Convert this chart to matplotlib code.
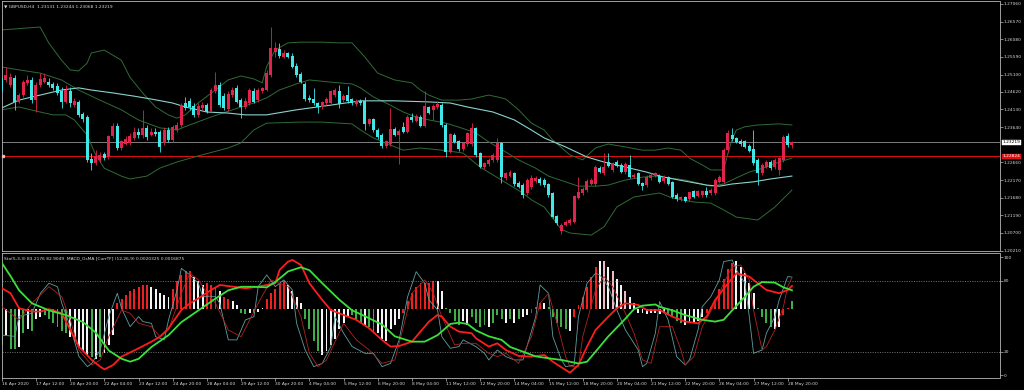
import matplotlib
matplotlib.use("Agg")
import matplotlib.pyplot as plt
import numpy as np

# ---------------- data ----------------
OPEN = [1.2497,1.2495,1.2481,1.2500,1.2435,1.2453,1.2486,1.2495,1.2439,1.2481,
        1.2490,1.2490,1.2483,1.2478,1.2463,1.2435,1.2465,1.2426,1.2432,1.2400,
        1.2393,1.2275,1.2265,1.2273,1.2289,1.2280,1.2338,1.2367,1.2305,1.2317,
        1.2319,1.2333,1.2351,1.2342,1.2361,1.2342,1.2351,1.2349,1.2319,1.2356,
        1.2328,1.2356,1.2370,1.2430,1.2435,1.2423,1.2398,1.2416,1.2426,1.2409,
        1.2463,1.2481,1.2449,1.2414,1.2453,1.2472,1.2439,1.2419,1.2430,1.2463,
        1.2439,1.2463,1.2467,1.2509,1.2574,1.2580,1.2560,1.2569,1.2562,1.2532,
        1.2512,1.2483,1.2444,1.2442,1.2430,1.2419,1.2430,1.2430,1.2453,1.2463,
        1.2439,1.2453,1.2442,1.2428,1.2437,1.2437,1.2373,1.2386,1.2356,1.2342,
        1.2312,1.2317,1.2358,1.2342,1.2363,1.2351,1.2393,1.2382,1.2393,1.2367,
        1.2419,1.2412,1.2419,1.2426,1.2370,1.2296,1.2342,1.2324,1.2303,1.2317,
        1.2317,1.2361,1.2291,1.2252,1.2261,1.2273,1.2273,1.2319,1.2222,1.2229,
        1.2236,1.2208,1.2203,1.2180,1.2197,1.2215,1.2219,1.2217,1.2206,1.2180,
        1.2117,1.2076,1.2092,1.2097,1.2101,1.2166,1.2180,1.2189,1.2206,1.2206,
        1.2250,1.2236,1.2268,1.2245,1.2268,1.2259,1.2238,1.2259,1.2226,1.2236,
        1.2208,1.2203,1.2222,1.2228,1.2228,1.2215,1.2225,1.2210,1.2175,1.2163,
        1.2169,1.2163,1.2185,1.2173,1.2175,1.2185,1.2180,1.2180,1.2212,1.2212,
        1.2300,1.2342,1.2333,1.2326,1.2324,1.2312,1.2302,1.2273,1.2236,1.2254,
        1.2268,1.2252,1.2245,1.2273,1.2339,1.23131]
HIGH = [1.2504,1.2532,1.2513,1.2509,1.2458,1.2495,1.2509,1.2504,1.2490,1.2513,
        1.2513,1.2500,1.2490,1.2486,1.2476,1.2481,1.2476,1.2444,1.2439,1.2407,
        1.2398,1.2291,1.2300,1.2296,1.2296,1.2342,1.2375,1.2375,1.2328,1.2338,
        1.2347,1.2365,1.2361,1.2412,1.2370,1.2361,1.2361,1.2356,1.2365,1.2365,
        1.2370,1.2379,1.2430,1.2449,1.2444,1.2430,1.2430,1.2435,1.2430,1.2472,
        1.2516,1.2490,1.2458,1.2463,1.2476,1.2481,1.2444,1.2444,1.2472,1.2472,
        1.2472,1.2476,1.2523,1.2643,1.2601,1.2597,1.2578,1.2574,1.2569,1.2541,
        1.2518,1.2490,1.2453,1.2472,1.2435,1.2437,1.2449,1.2467,1.2472,1.2481,
        1.2456,1.2478,1.2446,1.2442,1.2442,1.2447,1.2390,1.2390,1.2361,1.2347,
        1.2328,1.2416,1.2363,1.2358,1.2379,1.2398,1.2402,1.2400,1.2398,1.2463,
        1.2423,1.2428,1.2437,1.2432,1.2375,1.2349,1.2347,1.2328,1.2324,1.2351,
        1.2375,1.2365,1.2296,1.2268,1.2277,1.2291,1.2333,1.2324,1.2240,1.2245,
        1.2240,1.2213,1.2208,1.2222,1.2231,1.2228,1.2226,1.2222,1.2210,1.2185,
        1.2120,1.2097,1.2106,1.2111,1.2175,1.2226,1.2197,1.2219,1.2222,1.2259,
        1.2256,1.2291,1.2293,1.2268,1.2273,1.2263,1.2268,1.2287,1.2236,1.2240,
        1.2212,1.2231,1.2236,1.2240,1.2233,1.2231,1.2228,1.2215,1.2180,1.2173,
        1.2173,1.2185,1.2189,1.2189,1.2189,1.2199,1.2194,1.2222,1.2231,1.2305,
        1.2356,1.2361,1.2337,1.2330,1.2328,1.2317,1.2356,1.2277,1.2263,1.2273,
        1.2273,1.2277,1.2282,1.2342,1.2347,1.23244]
LOW = [1.2463,1.2490,1.2476,1.2412,1.2430,1.2449,1.2481,1.2430,1.2407,1.2476,
       1.2486,1.2476,1.2467,1.2453,1.2416,1.2430,1.2421,1.2421,1.2393,1.2379,
       1.2268,1.2245,1.2259,1.2268,1.2273,1.2275,1.2333,1.2301,1.2301,1.2314,
       1.2314,1.2328,1.2333,1.2333,1.2328,1.2338,1.2338,1.2296,1.2314,1.2324,
       1.2324,1.2351,1.2365,1.2412,1.2412,1.2393,1.2393,1.2412,1.2402,1.2405,
       1.2458,1.2421,1.2412,1.2409,1.2449,1.2430,1.2388,1.2414,1.2426,1.2430,
       1.2435,1.2458,1.2463,1.2504,1.2560,1.2555,1.2555,1.2555,1.2527,1.2504,
       1.2486,1.2437,1.2435,1.2426,1.2404,1.2414,1.2426,1.2426,1.2449,1.2416,
       1.2435,1.2432,1.2426,1.2423,1.2426,1.2356,1.2368,1.2351,1.2331,1.2307,
       1.2307,1.2312,1.2338,1.2262,1.2347,1.2347,1.2379,1.2377,1.2363,1.2363,
       1.2400,1.2384,1.2414,1.2365,1.2282,1.2291,1.2319,1.2298,1.2298,1.2312,
       1.2312,1.2282,1.2250,1.2247,1.2257,1.2268,1.2268,1.2208,1.2217,1.2226,
       1.2201,1.2194,1.2166,1.2175,1.2191,1.2210,1.2203,1.2199,1.2171,1.2111,
       1.2092,1.2067,1.2088,1.2092,1.2097,1.2163,1.2175,1.2185,1.2203,1.2201,
       1.2236,1.2231,1.2252,1.2240,1.2252,1.2236,1.2233,1.2222,1.2222,1.2203,
       1.2189,1.2199,1.2217,1.2225,1.2208,1.2210,1.2203,1.2166,1.2160,1.2160,
       1.2157,1.2160,1.2166,1.2169,1.2171,1.2171,1.2175,1.2175,1.2208,1.2208,
       1.2296,1.2326,1.2319,1.2312,1.2305,1.2295,1.2259,1.2203,1.2231,1.2250,
       1.2245,1.2248,1.2231,1.2268,1.2310,1.23068]
CLOSE = [1.2472,1.2509,1.2504,1.2435,1.2453,1.2490,1.2495,1.2439,1.2481,1.2497,
         1.2500,1.2481,1.2472,1.2458,1.2435,1.2467,1.2430,1.2435,1.2398,1.2386,
         1.2273,1.2265,1.2282,1.2287,1.2277,1.2338,1.2367,1.2305,1.2324,1.2330,
         1.2338,1.2351,1.2342,1.2361,1.2336,1.2351,1.2345,1.2310,1.2356,1.2328,
         1.2365,1.2370,1.2426,1.2416,1.2419,1.2398,1.2423,1.2426,1.2407,1.2467,
         1.2481,1.2426,1.2416,1.2456,1.2467,1.2435,1.2419,1.2435,1.2467,1.2435,
         1.2467,1.2472,1.2513,1.2583,1.2583,1.2562,1.2569,1.2560,1.2530,1.2509,
         1.2490,1.2441,1.2439,1.2430,1.2419,1.2432,1.2442,1.2463,1.2467,1.2428,
         1.2451,1.2437,1.2430,1.2437,1.2430,1.2373,1.2386,1.2356,1.2336,1.2312,
         1.2324,1.2358,1.2342,1.2354,1.2351,1.2393,1.2384,1.2395,1.2367,1.2421,
         1.2404,1.2423,1.2428,1.2370,1.2296,1.2345,1.2324,1.2303,1.2319,1.2347,
         1.2361,1.2287,1.2254,1.2263,1.2273,1.2287,1.2319,1.2225,1.2236,1.2240,
         1.2206,1.2199,1.2175,1.2217,1.2222,1.2222,1.2208,1.2203,1.2175,1.2115,
         1.2097,1.2092,1.2101,1.2106,1.2171,1.2182,1.2191,1.2215,1.2217,1.2252,
         1.2240,1.2252,1.2256,1.2263,1.2256,1.2240,1.2262,1.2226,1.2231,1.2206,
         1.2201,1.2226,1.2231,1.2236,1.2212,1.2226,1.2206,1.2171,1.2163,1.2169,
         1.2160,1.2182,1.2171,1.2185,1.2185,1.2175,1.2189,1.2217,1.2226,1.2300,
         1.2347,1.2330,1.2324,1.2317,1.2310,1.2299,1.2263,1.2236,1.2259,1.2268,
         1.2250,1.2273,1.2277,1.2337,1.2314,1.23219]

# Bollinger bands / moving average (bar index, price)
BB_UP_IDX = [0,9,11,14,16,18,20,21,24,26,28,30,33,36,39,41,43,46,50,53,56,59,61,62,64,67,70,75,79,82,85,88,92,96,98,100,103,107,110,114,116,118,121,124,127,129,133,136,139,142,146,150,153,156,159,161,164,166,168,169,170,171,172,174,177,182,185]
BB_UP = [1.2634,1.2642,1.2598,1.2550,1.2523,1.2520,1.2542,1.2570,1.2578,1.2564,1.2550,1.2503,1.2459,1.2420,1.2398,1.2389,1.2398,1.2431,1.2467,1.2495,1.2506,1.2498,1.2487,1.2531,1.2578,1.2598,1.2600,1.2600,1.2598,1.2598,1.2559,1.2514,1.2495,1.2487,1.2467,1.2453,1.2439,1.2439,1.2442,1.2453,1.2448,1.2442,1.2412,1.2375,1.2356,1.2328,1.2287,1.2273,1.2306,1.2317,1.2309,1.2300,1.2300,1.2306,1.2300,1.2278,1.2259,1.2245,1.2245,1.2245,1.2290,1.2330,1.2356,1.2365,1.2370,1.2373,1.2370]
BB_MID_IDX = [0,4,9,14,18,23,28,32,37,41,44,49,54,59,62,65,69,72,77,82,84,87,91,94,97,100,104,107,111,114,118,121,125,128,132,135,139,142,146,150,153,157,160,164,166,169,172,175,179,182,185]
BB_MID = [1.2531,1.2523,1.2514,1.2495,1.2467,1.2439,1.2412,1.2384,1.2362,1.2356,1.2370,1.2392,1.2412,1.2431,1.2445,1.2467,1.2484,1.2495,1.2489,1.2484,1.2473,1.2448,1.2425,1.2406,1.2392,1.2384,1.2375,1.2364,1.2348,1.2323,1.2295,1.2273,1.2250,1.2228,1.2212,1.2200,1.2200,1.2203,1.2217,1.2225,1.2228,1.2222,1.2217,1.2206,1.2200,1.2206,1.2223,1.2239,1.2253,1.2267,1.2278]
BB_LO_IDX = [0,4,9,12,15,17,20,22,24,28,30,34,37,41,46,53,56,59,62,70,75,82,84,87,91,94,98,103,108,112,117,122,124,127,131,133,138,141,144,148,154,157,162,166,169,172,177,181,185]
BB_LO = [1.2412,1.2420,1.2406,1.2398,1.2398,1.2384,1.2342,1.2287,1.2250,1.2228,1.2220,1.2228,1.2250,1.2267,1.2284,1.2306,1.2320,1.2356,1.2375,1.2378,1.2378,1.2373,1.2356,1.2334,1.2314,1.2300,1.2306,1.2300,1.2292,1.2253,1.2217,1.2181,1.2162,1.2142,1.2080,1.2070,1.2064,1.2087,1.2142,1.2170,1.2181,1.2167,1.2156,1.2153,1.2134,1.2114,1.2106,1.2142,1.2189]
MA_IDX = [0,4,9,14,18,21,26,31,35,40,43,48,53,57,62,69,77,84,92,100,105,109,115,120,124,127,132,137,141,146,151,155,160,165,168,171,176,180,185]
MA = [1.2417,1.2439,1.2453,1.2467,1.2473,1.2467,1.2459,1.2450,1.2442,1.2431,1.2420,1.2406,1.2403,1.2398,1.2398,1.2412,1.2425,1.2437,1.2437,1.2434,1.2431,1.2420,1.2406,1.2384,1.2356,1.2334,1.2309,1.2281,1.2267,1.2253,1.2239,1.2225,1.2214,1.2203,1.2200,1.2206,1.2212,1.2220,1.2228]

PRICE_NOW = 1.23219
RED_LEVEL = 1.22824
PRICE_TICKS = [1.27060,1.26570,1.26080,1.25590,1.25100,1.24620,1.24130,1.23640,
               1.22660,1.22170,1.21680,1.21190,1.20700,1.20210]

# Indicator: MACD OsMA histogram (x1e-4) and colour codes
OSMA = [-9,-6.5,-10,-10,-9.5,-6,-5,-5.5,-2.5,-2,-1.5,-2.5,-3.5,-4.5,-5.5,-6,-7,-8,-9.5,-10.5,
        -11.5,-12,-12.5,-12,-11,-9,-6.5,1.5,2.5,3.5,4.5,5,5.5,6,6,5.5,5,4,3.5,3,
        5,7,8.5,9.5,9.5,8,7,6,6.5,6,5.5,4.5,3,2.5,2,1,-1,-1.2,-0.8,-1,
        -0.6,0.3,2.5,4,5,6.5,7,6,4.5,3,1.5,-2.5,-5,-8,-10.5,-11.5,-10.5,-9,-7.5,-5,
        -3.5,-2,-1.5,-2.5,-3.5,-4,-4.5,-5.5,-6,-7.5,-8,-5,-4,-2.5,-1,2,4,5.5,6.5,6.5,
        6.5,7,7,4.5,0.3,-0.8,-3,-4,-3,-4,-2,-3.5,-4.5,-4,-4.5,-3.5,-1.5,-2.5,-3.5,-2.5,
        -3.5,-2.5,-2,-1.5,-0.8,0.5,1.5,1.5,0.5,-2,-3.5,-4.5,-5,-5.5,-2,1,3,5.5,8,10.5,
        12,12,10.5,9.5,7.5,6,4.5,3,1.5,-0.8,-1,-1.2,-1,-0.8,-1.2,-1,-1.5,-2,-3,-3.5,
        -4,-3.5,-3.5,-3,-2,-0.8,0.5,2,5,7.5,10,11.5,12,10.5,9,6.5,4,0.3,-2,-3.5,
        -4.5,-5,-4.5,-1.5,0.3,2]
OSMA_COL = ("gwggwgwgwwggggggwwwwwgwgwwwrrrrrrrrwwwwwrrrrrwwwrrrwrrwwggwg"
            "wwrrrrrwwwwggggwwwwwwwgggwggwwwwwwrrrrrrrrwwggggwwggggwgggwg"
            "wgwwrrrwgggggwrrrrrrwpwpwwpwwwwwwwwwggggwwwwwrrrrrrrwwwwwggg"
            "gwwrr")

# Stochastic and smoothed lines (bar index, value)
K_IDX = [0,3,4,7,9,11,13,14,16,18,20,21,23,25,27,28,30,32,33,35,36,38,39,41,42,44,46,47,50,51,53,55,57,59,60,62,64,66,68,69,71,73,75,77,78,80,82,85,87,89,91,93,95,97,99,100,102,103,105,107,108,111,113,114,116,118,120,122,125,126,128,129,131,132,134,135,137,139,140,142,144,146,149,150,151,153,154,156,158,160,161,163,164,166,168,169,171,172,174,175,176,178,179,181,182,184,185]
K_VAL = [34,33,50,52.5,69.5,78,75,61,41,16,7.3,10,21.4,49.7,69.5,56.8,41.2,49.7,45.5,44,32.7,30,46.9,72.3,90.6,85,77.9,66.6,66.6,61,30,30,46.9,49.7,75.1,85,75.1,80.8,72.3,44,21.4,7.3,10.1,24.3,49.7,35.6,24.3,18.6,18.6,7.3,10.1,30,66.6,87.8,77.9,63.8,55.3,32.7,22.9,24.3,30,24.3,18.6,13,21.4,15.8,13,13,49.7,76.5,69.5,32.7,13,7.3,8.7,49.7,77.9,86.4,85,75.1,55.3,38.4,21.4,7.3,10.1,35.6,62.4,46.9,15.8,8.7,13,38.4,58.2,66.6,80.8,96.3,97.7,89.2,77.9,49.7,18.6,21.4,35.6,49.7,63.8,83.6,83.2]
D_IDX = [0,4,7,11,14,16,18,21,23,25,28,30,32,35,37,39,42,44,46,48,50,53,56,58,60,63,65,67,70,72,74,76,80,83,86,89,92,94,96,99,101,103,106,108,111,114,116,118,121,124,126,128,130,132,133,135,136,139,141,143,146,148,150,152,154,157,159,160,162,164,167,169,171,173,175,176,178,179,181,183,184,185]
D_VAL = [58,46.9,61,75.1,66.6,46.9,21.4,8.7,13,32.7,55.3,52.5,44,41.2,32.7,38.4,69.5,86.4,80.8,69.5,61,38.4,32.7,46.9,61,80.8,77.9,75.1,49.7,18.6,7.3,13,44,29.9,21.4,10.1,13,41.2,69.5,80.8,69.5,49.7,25.7,27.1,27.1,18.6,15.8,18.6,10.1,32.7,61,69.5,44,15.8,7.3,7.3,32.7,72.3,83.6,75.1,52.5,35.6,13,10.1,41.2,41.2,21.4,8.7,15.8,41.2,61,77.9,92,93.5,80.8,55.3,21.4,24.3,38.4,58.2,75.1,82.9]
RED_IDX = [0,2,4,7,9,11,14,16,18,21,23,24,26,28,32,35,37,39,42,44,46,49,51,54,57,60,64,65,67,68,70,72,75,77,80,83,86,89,91,93,96,98,100,102,103,105,107,110,111,114,116,118,121,124,127,129,132,133,135,137,139,142,144,146,149,151,154,157,160,163,165,167,170,172,175,177,179,182,184,185]
RED_VAL = [73.7,69.5,56.8,54,54,56,52.5,38.4,24.3,13,7.3,5,8.7,15.8,22.9,28.5,32.7,39.8,55.3,60.9,65.2,72.3,76.5,75.1,73.7,75.1,77.9,89.2,96.3,97.7,93.5,77.9,63.8,55.3,51.1,46.9,39.8,29.9,24.3,24.8,28.5,37,45.5,51.1,49.7,41.2,37,35.6,31.3,24.3,27.1,21.4,16.4,15.8,17.2,11.5,4.5,2.2,8.7,24.3,38.4,49.7,56.8,61,59.6,55.3,55.3,49.7,45.5,44,49.7,63.8,77.9,86.4,83.6,77.9,72.3,69.5,72.3,75.7]
GRN_IDX = [0,2,4,7,11,15,19,22,25,28,30,32,35,39,42,46,50,53,56,59,62,64,67,70,72,75,77,79,82,85,89,92,96,99,102,105,107,109,111,114,117,119,122,125,128,131,135,137,139,142,146,148,150,153,154,157,160,164,167,169,171,174,176,178,181,183,185]
GRN_VAL = [95,84,72,61,55,51,45,36,21,14,11.5,14,24,34,45,55,65,72,75,75,74.5,79,88,91.5,89,78,71,64,55,50,43,33,28.5,28.5,34,43.5,44.6,43.5,38,33,30,24,20,16,14.4,13,10,11.5,20,33,48,56,59,60,58,55,51,47,45.5,47,55,66.6,75,79,78.5,74.5,72]

TIME_LABELS = ["16 Apr 2020","17 Apr 12:00","20 Apr 20:00","22 Apr 04:00","23 Apr 12:00",
               "24 Apr 20:00","28 Apr 04:00","29 Apr 12:00","30 Apr 20:00","4 May 04:00",
               "5 May 12:00","6 May 20:00","8 May 04:00","11 May 12:00","12 May 20:00",
               "14 May 04:00","15 May 12:00","18 May 20:00","20 May 04:00","21 May 12:00",
               "22 May 20:00","26 May 04:00","27 May 12:00","28 May 20:00"]
TIME_IDX = [0] + list(range(8, 185, 8))

# ---------------- drawing ----------------
W, H = 1024, 390
fig = plt.figure(figsize=(W/100, H/100), dpi=100, facecolor="black")
FS = 3.2
FG = "#d8d8d8"
FRAME = "#b8b8b8"

def frac(x0, y0, x1, y1):
    return [x0/W, 1-y1/H, (x1-x0)/W, (y1-y0)/H]

ax = fig.add_axes(frac(2, 1, 999.5, 251))
ai = fig.add_axes(frac(2, 253, 999.5, 378))
for a in (ax, ai):
    a.set_facecolor("black")
    for s in a.spines.values():
        s.set_color(FRAME)
        s.set_linewidth(0.6)
    a.set_xlim(0.07, 233.6)

n = len(CLOSE)
idx = np.arange(n)
o = np.array(OPEN); c = np.array(CLOSE); h = np.array(HIGH); l = np.array(LOW)
up = c >= o
UPC, DNC = "#e0234a", "#3ee8e8"

# bands and MA
ax.plot(BB_UP_IDX, BB_UP, color="#2f6b35", lw=0.7, zorder=2)
ax.plot(BB_MID_IDX, BB_MID, color="#2f6b35", lw=0.7, zorder=2)
ax.plot(BB_LO_IDX, BB_LO, color="#2f6b35", lw=0.7, zorder=2)
ax.plot(MA_IDX, MA, color="#8ad2ce", lw=0.8, zorder=2)

ax.axhline(PRICE_NOW, color="#b0b0b0", lw=0.5, zorder=1)
ax.axhline(RED_LEVEL, color="#e01010", lw=0.7, zorder=1)

cols = np.where(up, UPC, DNC)
ax.vlines(idx, l, h, colors=cols, lw=0.6, zorder=3)
ax.bar(idx, np.abs(c-o)+0.00004, bottom=np.minimum(o, c), width=0.7,
       color=cols, linewidth=0, zorder=4)

ax.set_ylim(1.20199, 1.27143)
ax.yaxis.tick_right()
ax.set_yticks(PRICE_TICKS)
ax.set_yticklabels([f"{v:.5f}" for v in PRICE_TICKS])
ax.tick_params(axis="y", colors=FRAME, labelcolor=FG, labelsize=FS, length=2, width=0.5, pad=1)
ax.set_xticks([])
ax.text(0.0025, 0.985, "\u25bc GBPUSD,H4  1.23131 1.23244 1.23068 1.23219", transform=ax.transAxes,
        color=FG, fontsize=FS, va="top", ha="left")
ax.text(1.003, PRICE_NOW, "1.23219", transform=ax.get_yaxis_transform(), color="black",
        fontsize=FS, va="center", ha="left",
        bbox=dict(boxstyle="square,pad=0.15", fc="white", ec="white", lw=0.3), clip_on=False)
ax.text(1.003, RED_LEVEL, "1.22824", transform=ax.get_yaxis_transform(), color="white",
        fontsize=FS, va="center", ha="left",
        bbox=dict(boxstyle="square,pad=0.15", fc="#e01010", ec="#e01010", lw=0.3), clip_on=False)
ax.plot([0.4], [RED_LEVEL], marker="s", ms=1.6, color="#ffb0b0", zorder=5, clip_on=False)

# indicator panel
ai.set_ylim(-2.3, 103.6)
ah = ai.twinx()
ah.set_ylim(-17.2, 14.1)
ah.set_axis_off()
ai.set_zorder(ah.get_zorder() + 1)
ai.patch.set_visible(False)
ah.patch.set_visible(True)
ah.patch.set_facecolor("black")
cmap = {"r": "#f02020", "w": "#f4f4f4", "p": "#f0b8c0", "g": "#3fae49"}
ah.bar(idx, OSMA, width=0.45, color=[cmap[k] for k in OSMA_COL], linewidth=0)

ai.axhline(80, color="#9a9a9a", lw=0.5, ls=(0, (1.5, 2)))
ai.axhline(20, color="#9a9a9a", lw=0.5, ls=(0, (1.5, 2)))
ai.plot(K_IDX, K_VAL, color="#5f9ea0", lw=0.6, zorder=3)
ai.plot(D_IDX, D_VAL, color="#b22222", lw=0.6, zorder=3)
ai.plot(RED_IDX, RED_VAL, color="#ff1c1c", lw=1.3, zorder=4)
ai.plot(GRN_IDX, GRN_VAL, color="#3be03b", lw=1.3, zorder=5)

ai.yaxis.tick_right()
ai.set_yticks([100, 80, 20, 0])
ai.set_yticklabels(["100", "80", "20", "0"])
ai.tick_params(axis="y", colors=FRAME, labelcolor=FG, labelsize=FS, length=2, width=0.5, pad=1)
ai.set_xticks(TIME_IDX)
ai.set_xticklabels(TIME_LABELS, ha="left")
ai.tick_params(axis="x", colors=FRAME, labelcolor=FG, labelsize=FS, length=2, width=0.5, pad=1.2)
ai.text(0.0025, 0.97, "Sto(5,3,3) 83.2176 82.9049  MACD_OsMA [CurrTF] (12,26,9) 0.0020325 0.0016875",
        transform=ai.transAxes, color=FG, fontsize=FS, va="top", ha="left")

fig.savefig("out.png", dpi=100, facecolor="black")
